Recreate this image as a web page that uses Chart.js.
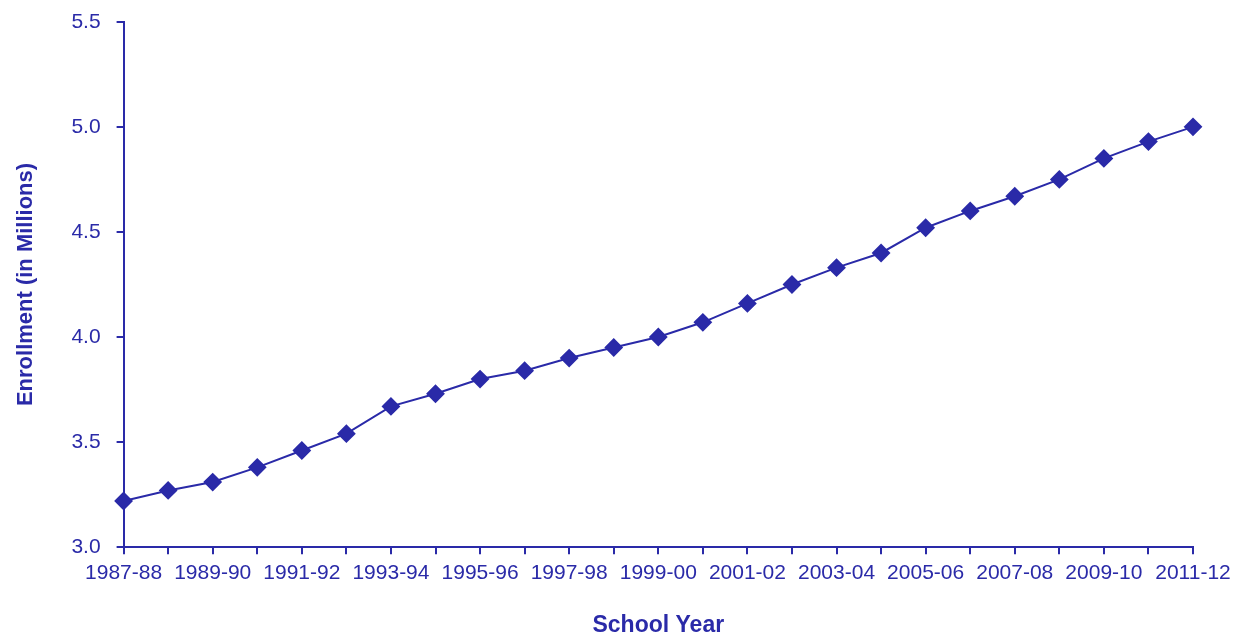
<!DOCTYPE html>
<html>
<head>
<meta charset="utf-8">
<script src="https://cdn.jsdelivr.net/npm/chart.js@4.4.0/dist/chart.umd.min.js"></script>
<style>
  html, body { margin: 0; padding: 0; background: #fff; }
  #wrap { width: 1238px; height: 636px; }
</style>
</head>
<body>
<div id="wrap"><canvas id="enrollChart"></canvas></div>
<script>
// school years, one point each
const years = [
  "1987-88", "1988-89", "1989-90", "1990-91", "1991-92", "1992-93", "1993-94",
  "1994-95", "1995-96", "1996-97", "1997-98", "1998-99", "1999-00", "2000-01",
  "2001-02", "2002-03", "2003-04", "2004-05", "2005-06", "2006-07", "2007-08",
  "2008-09", "2009-10", "2010-11", "2011-12"
];
// enrollment in millions
const enrollment = [
  3.22, 3.27, 3.31, 3.38, 3.46, 3.54, 3.67, 3.73, 3.80, 3.84, 3.90, 3.95, 4.00,
  4.07, 4.16, 4.25, 4.33, 4.40, 4.52, 4.60, 4.67, 4.75, 4.85, 4.93, 5.00
];
const yTicks = [3.0, 3.5, 4.0, 4.5, 5.0, 5.5];

const blue = "#2a2aa8";

new Chart(document.getElementById("enrollChart"), {
  type: "line",
  data: {
    labels: years,
    datasets: [{
      data: enrollment,
      borderColor: blue,
      backgroundColor: blue,
      borderWidth: 2,
      pointStyle: "rectRot",
      pointRadius: 8,
      pointHoverRadius: 8,
      tension: 0
    }]
  },
  options: {
    responsive: true,
    maintainAspectRatio: false,
    animation: false,
    layout: { autoPadding: false, padding: { top: 0, right: 45, left: 13, bottom: 2 } },
    plugins: { legend: { display: false }, tooltip: { enabled: false } },
    scales: {
      x: {
        offset: false,
        grid: { drawOnChartArea: false, color: blue, tickLength: 7, lineWidth: 2 },
        border: { color: blue, width: 2 },
        ticks: {
          autoSkip: false,
          maxRotation: 0,
          padding: 6,
          color: blue,
          font: { family: "Liberation Sans", size: 21 },
          callback: function (v, i) { return i % 2 === 0 ? years[i] : ""; }
        },
        title: {
          display: true,
          text: "School Year",
          color: blue,
          font: { family: "Liberation Sans", size: 23, weight: "bold" },
          padding: { top: 20, bottom: -5 }
        }
      },
      y: {
        min: 3.0,
        max: 5.5,
        afterBuildTicks: function (axis) { axis.ticks = yTicks.map(v => ({ value: v })); },
        grid: { drawOnChartArea: false, color: blue, tickLength: 7, lineWidth: 2 },
        border: { color: blue, width: 2 },
        ticks: {
          padding: 16,
          color: blue,
          font: { family: "Liberation Sans", size: 21, lineHeight: 0.55 },
          callback: function (v) { return v.toFixed(1); }
        },
        title: {
          display: true,
          text: "Enrollment (in Millions)",
          color: blue,
          font: { family: "Liberation Sans", size: 22, weight: "bold" },
          padding: { top: 0, bottom: 16 }
        }
      }
    }
  }
});
</script>
</body>
</html>
